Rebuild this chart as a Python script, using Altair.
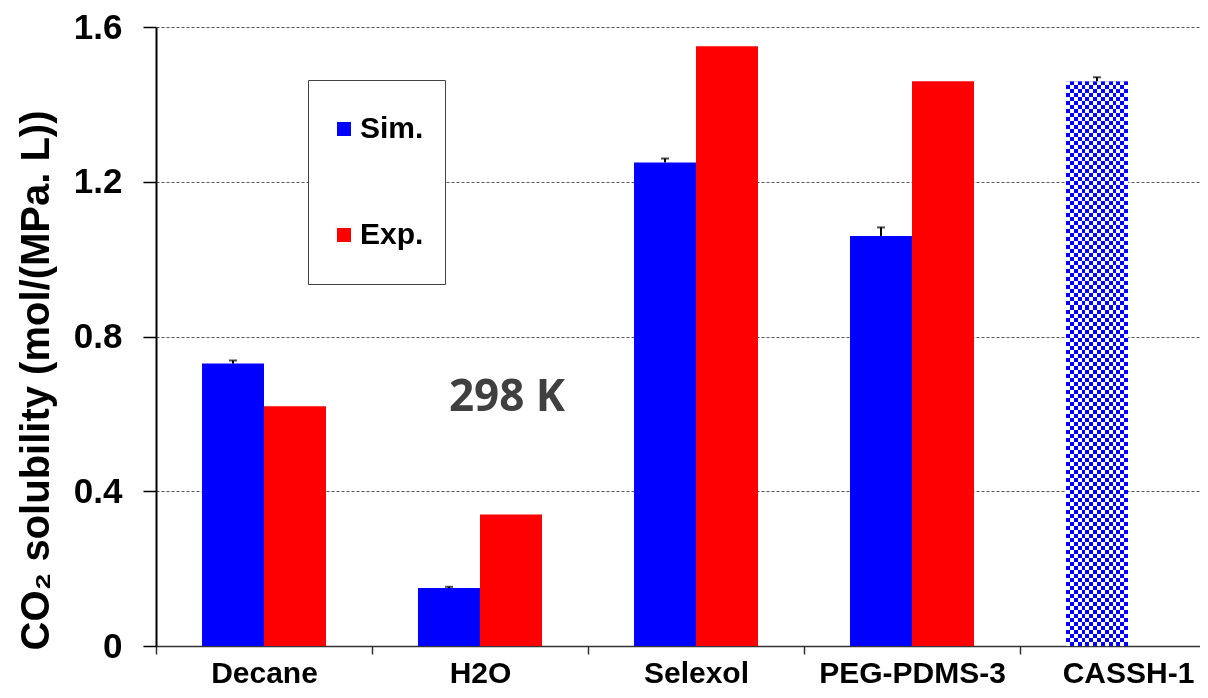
import altair as alt
import pandas as pd

# ---- data ----
categories = ["Decane", "H2O", "Selexol", "PEG-PDMS-3", "CASSH-1"]
series_names = ["Sim.", "Exp."]
sim_values = [0.73, 0.15, 1.25, 1.06, 1.46]
sim_errors = [0.008, 0.003, 0.01, 0.022, 0.01]
exp_values = [0.62, 0.34, 1.55, 1.46, None]
y_ticks = [0, 0.4, 0.8, 1.2, 1.6]
pattern_category = "CASSH-1"
note_category = ["H2O"]
note_value = [0.64]
note_text = ["298 K"]

rows = []
for c, s, e, x in zip(categories, sim_values, sim_errors, exp_values):
    rows.append({"category": c, "series": "Sim.", "value": s, "err": e})
    if x is not None:
        rows.append({"category": c, "series": "Exp.", "value": x, "err": 0.0})
df = pd.DataFrame(rows)
note_df = pd.DataFrame({"category": note_category, "value": note_value, "label": note_text})

# ---- checker pattern built from two striped gradients ----
def stripes(colors, n, horizontal):
    stops = []
    for i in range(n):
        col = colors[i % 2]
        stops.append(alt.GradientStop(offset=i / n, color=col))
        stops.append(alt.GradientStop(offset=(i + 1) / n, color=col))
    if horizontal:
        return alt.LinearGradient(gradient="linear", stops=stops, x1=0, x2=0, y1=0, y2=1)
    return alt.LinearGradient(gradient="linear", stops=stops, x1=0, x2=1, y1=0, y2=0)

row_grad = stripes(["#ffffff", "#0000ff"], 141, True)
col_grad = stripes(["#000000", "#ffff00"], 16, False)

# ---- shared encodings ----
x_enc = alt.X(
    "category:N",
    sort=categories,
    scale=alt.Scale(domain=categories, range=[0, 1080], paddingInner=0, paddingOuter=0),
    axis=alt.Axis(
        title=None, labelAngle=0, labelFont="Arial", labelFontWeight="bold",
        labelFontSize=30, labelColor="black", labelPadding=4, tickBand="extent",
        tickSize=8, tickColor="#333333", tickWidth=1.5, domainColor="#333333",
        domainWidth=1.5, grid=False, labelLimit=400,
    ),
)
xo_enc = alt.XOffset(
    "series:N", sort=series_names,
    scale=alt.Scale(domain=series_names, paddingInner=0, paddingOuter=0.742),
)
y_enc = alt.Y(
    "value:Q",
    scale=alt.Scale(domain=[0, 1.6], nice=False, zero=True),
    axis=alt.Axis(
        values=y_ticks,
        labelExpr="datum.value == 0 ? '0' : format(datum.value, '.1f')",
        labelFont="Arial", labelFontWeight="bold", labelFontSize=35,
        labelColor="black", labelPadding=21, tickSize=13, tickColor="black",
        tickWidth=1.5, domainColor="black", domainWidth=2,
        grid=True, gridDash=[3, 2], gridColor="#555555", gridWidth=1,
        title="CO₂ solubility (mol/(MPa. L))", titleFont="Arial",
        titleFontWeight="bold", titleFontSize=40, titleColor="black",
        titleAngle=270, titleAlign="center", titleBaseline="middle",
        titleX=-120, titleY=353,
    ),
)

base = alt.Chart(df)

bars = base.mark_bar().encode(
    x=x_enc,
    xOffset=xo_enc,
    y=y_enc,
    color=alt.Color(
        "series:N", sort=series_names,
        scale=alt.Scale(domain=series_names, range=["#0000ff", "#ff0000"]),
        legend=alt.Legend(
            title=None, orient="none", legendX=152, legendY=53,
            direction="vertical", padding=21, strokeColor="#444444",
            fillColor="white", symbolType="square", symbolSize=196,
            symbolStrokeWidth=0, symbolOffset=0, labelOffset=1,
            labelFont="Arial", labelFontWeight="bold", labelFontSize=30,
            labelColor="black", clipHeight=56, rowPadding=50,
        ),
    ),
)

pat_rows = base.transform_filter(
    alt.datum.category == pattern_category
).mark_bar(fill=row_grad).encode(x=alt.X("category:N", sort=categories), xOffset=alt.XOffset("series:N", sort=series_names), y=alt.Y("value:Q"))

pat_cols = base.transform_filter(
    alt.datum.category == pattern_category
).mark_bar(fill=col_grad, blend="difference").encode(x=alt.X("category:N", sort=categories), xOffset=alt.XOffset("series:N", sort=series_names), y=alt.Y("value:Q"))

err_base = base.transform_filter(alt.datum.series == "Sim.").transform_calculate(
    hi="datum.value + datum.err"
)
err_rule = err_base.mark_rule(color="black", strokeWidth=2).encode(
    x=alt.X("category:N", sort=categories),
    xOffset=alt.XOffset("series:N", sort=series_names),
    y=alt.Y("value:Q"),
    y2="hi:Q",
)
err_cap = err_base.mark_tick(color="black", thickness=2, size=8).encode(
    x=alt.X("category:N", sort=categories),
    xOffset=alt.XOffset("series:N", sort=series_names),
    y=alt.Y("hi:Q"),
)

note = alt.Chart(note_df).mark_text(
    font="Open Sans", fontWeight="bold", fontSize=44, color="#404040",
    align="center", baseline="middle", dx=27,
).encode(
    x=alt.X("category:N", sort=categories),
    y=alt.Y("value:Q"),
    text="label:N",
)

chart = alt.layer(bars, pat_rows, pat_cols, err_rule, err_cap, note).properties(
    width=1044,
    height=619,
    autosize=alt.AutoSizeParams(type="none"),
    padding={"left": 148, "top": 19, "right": 0, "bottom": 44},
    background="white",
).configure_view(stroke=None)

chart.save("out.html", embed_options={"renderer": "svg", "actions": False})
